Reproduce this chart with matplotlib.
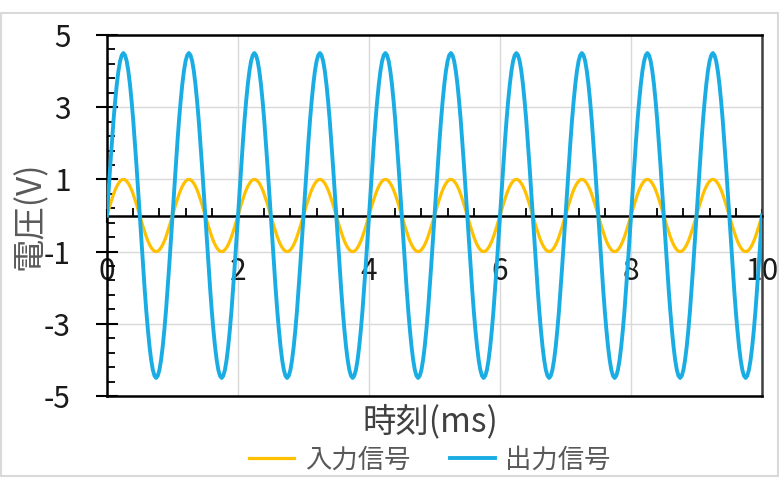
import numpy as np
import matplotlib.pyplot as plt
from matplotlib.patches import Rectangle

plt.rcParams['font.family'] = ['Noto Sans CJK JP', 'DejaVu Sans']
plt.rcParams['axes.unicode_minus'] = False

input_period = [0.00, 0.16, 0.31, 0.45, 0.59, 0.71, 0.81, 0.89, 0.95, 0.99,
                1.00, 0.99, 0.95, 0.89, 0.81, 0.71, 0.59, 0.45, 0.31, 0.16,
                0.00, -0.16, -0.31, -0.45, -0.59, -0.71, -0.81, -0.89, -0.95, -0.99,
                -1.00, -0.99, -0.95, -0.89, -0.81, -0.71, -0.59, -0.45, -0.31, -0.16]
output_period = [0.00, 0.70, 1.39, 2.04, 2.65, 3.18, 3.64, 4.01, 4.28, 4.44,
                 4.50, 4.44, 4.28, 4.01, 3.64, 3.18, 2.65, 2.04, 1.39, 0.70,
                 0.00, -0.70, -1.39, -2.04, -2.65, -3.18, -3.64, -4.01, -4.28, -4.44,
                 -4.50, -4.44, -4.28, -4.01, -3.64, -3.18, -2.65, -2.04, -1.39, -0.70]
n_periods = 10
step_ms = 0.025

input_v = list(input_period) * n_periods + [input_period[0]]
output_v = list(output_period) * n_periods + [output_period[0]]
time_ms = np.arange(len(input_v)) * step_ms

x_ticks = [0, 2, 4, 6, 8, 10]
y_ticks = [-5, -3, -1, 1, 3, 5]
labels = ['入力信号', '出力信号']

fig = plt.figure(figsize=(7.79, 4.80), dpi=100)
ax = fig.add_axes([107/779, 1-396/480, 655/779, 361/480])

ax.plot(time_ms, input_v, color='#FFC000', lw=2.3, label=labels[0], zorder=3)
ax.plot(time_ms, output_v, color='#1AADE4', lw=2.8, label=labels[1], zorder=3)

ax.set_xlim(0, 10)
ax.set_ylim(-5, 5)
ax.set_xticks(x_ticks)
ax.set_yticks(y_ticks)
ax.set_xticks(np.arange(0, 10.01, 0.4), minor=True)
ax.set_yticks(np.arange(-5, 5.01, 0.4), minor=True)
ax.set_axisbelow(True)
ax.grid(True, which='major', color='#D9D9D9', lw=1)

ax.spines['bottom'].set_position(('data', 0))
for s in ['bottom', 'left', 'top']:
    ax.spines[s].set_color('black')
    ax.spines[s].set_linewidth(1.8)
ax.spines['right'].set_color('#404040')
ax.spines['right'].set_linewidth(1.8)
ax.axhline(-5, color='black', lw=1.8, clip_on=False, zorder=4)

ax.tick_params(axis='y', which='major', direction='inout', length=16, width=1.5,
               pad=18, labelsize=21.5, labelcolor='#1a1a1a')
ax.tick_params(axis='x', which='major', direction='inout', length=10, width=1.5,
               pad=24, labelsize=21.5, labelcolor='#1a1a1a')
ax.tick_params(axis='both', which='minor', direction='in', length=6, width=1.3)

ax.set_xlabel('時刻(ms)', fontsize=24, color='#404040')
ax.set_ylabel('電圧(V)', fontsize=24, color='#595959')
ax.xaxis.set_label_coords(0.493, -0.072)
ax.xaxis.label.set_va('center')
ax.yaxis.set_label_coords(-0.117, 0.5)
ax.yaxis.label.set_va('center')

fig.legend(loc='center', bbox_to_anchor=(0.552, 1-460/480), ncol=2, frameon=False,
           fontsize=19, handlelength=1.7, handletextpad=0.4, columnspacing=1.5,
           labelcolor='#595959')

fig.patches.append(Rectangle((0.001, 0.008), 0.998, 0.965, transform=fig.transFigure,
                             fill=False, edgecolor='#D9D9D9', lw=1.5))

fig.savefig('out.png', dpi=100)
